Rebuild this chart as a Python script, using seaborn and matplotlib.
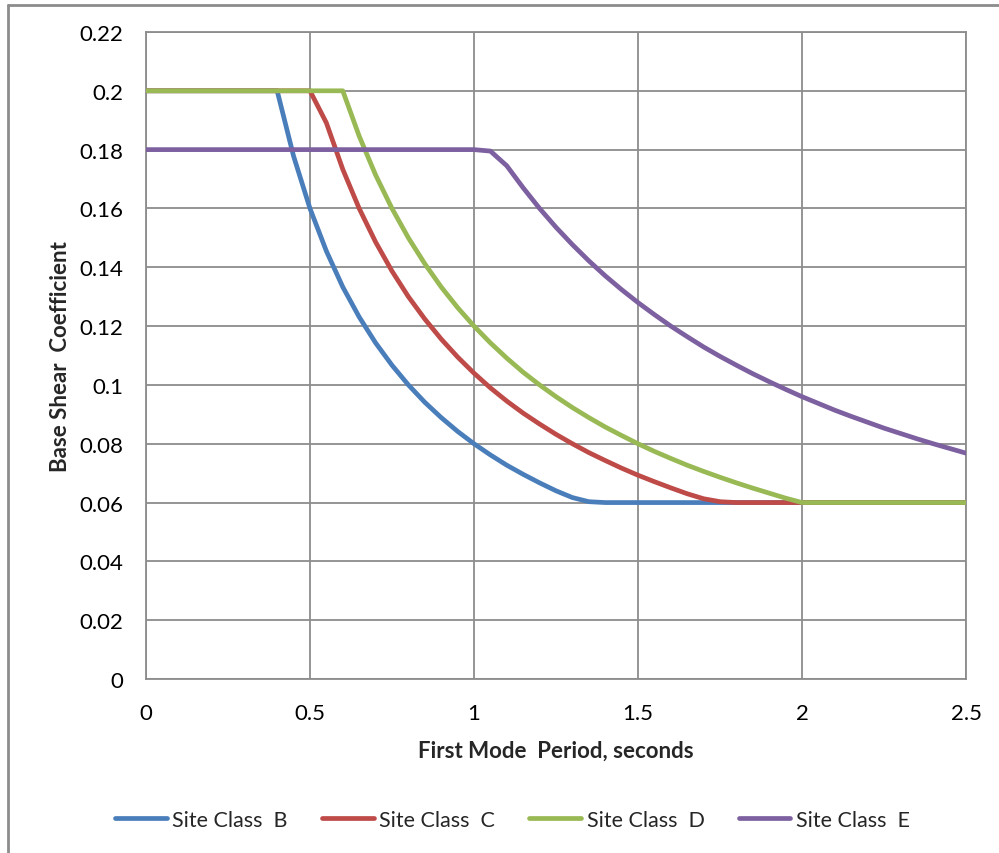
import numpy as np
import pandas as pd
import matplotlib
matplotlib.use('Agg')
import matplotlib.pyplot as plt
import seaborn as sns
from matplotlib.lines import Line2D

# period values (s)
period = [0.0, 0.05, 0.1, 0.15, 0.2, 0.25, 0.3, 0.35, 0.4, 0.45,
          0.5, 0.55, 0.6, 0.65, 0.7, 0.75, 0.8, 0.85, 0.9, 0.95,
          1.0, 1.05, 1.1, 1.15, 1.2, 1.25, 1.3, 1.35, 1.4, 1.45,
          1.5, 1.55, 1.6, 1.65, 1.7, 1.75, 1.8, 1.85, 1.9, 1.95,
          2.0, 2.05, 2.1, 2.15, 2.2, 2.25, 2.3, 2.35, 2.4, 2.45, 2.5]

site_b = [0.2, 0.2, 0.2, 0.2, 0.2, 0.2, 0.2, 0.2, 0.2, 0.1778,
          0.16, 0.1455, 0.1333, 0.1231, 0.1143, 0.1067, 0.1, 0.0941, 0.0889, 0.0842,
          0.08, 0.0762, 0.0727, 0.0696, 0.0667, 0.064, 0.0617, 0.0603, 0.06, 0.06,
          0.06, 0.06, 0.06, 0.06, 0.06, 0.06, 0.06, 0.06, 0.06, 0.06,
          0.06, 0.06, 0.06, 0.06, 0.06, 0.06, 0.06, 0.06, 0.06, 0.06, 0.06]
site_c = [0.2, 0.2, 0.2, 0.2, 0.2, 0.2, 0.2, 0.2, 0.2, 0.2,
          0.2, 0.1891, 0.1733, 0.16, 0.1486, 0.1387, 0.13, 0.1224, 0.1156, 0.1095,
          0.104, 0.099, 0.0945, 0.0904, 0.0867, 0.0832, 0.08, 0.077, 0.0743, 0.0717,
          0.0693, 0.0671, 0.065, 0.063, 0.0613, 0.0603, 0.06, 0.06, 0.06, 0.06,
          0.06, 0.06, 0.06, 0.06, 0.06, 0.06, 0.06, 0.06, 0.06, 0.06, 0.06]
site_d = [0.2, 0.2, 0.2, 0.2, 0.2, 0.2, 0.2, 0.2, 0.2, 0.2,
          0.2, 0.2, 0.2, 0.1846, 0.1714, 0.16, 0.15, 0.1412, 0.1333, 0.1263,
          0.12, 0.1143, 0.1091, 0.1043, 0.1, 0.096, 0.0923, 0.0889, 0.0857, 0.0828,
          0.08, 0.0774, 0.075, 0.0727, 0.0706, 0.0686, 0.0667, 0.0649, 0.0632, 0.0615,
          0.06, 0.06, 0.06, 0.06, 0.06, 0.06, 0.06, 0.06, 0.06, 0.06, 0.06]
site_e = [0.18, 0.18, 0.18, 0.18, 0.18, 0.18, 0.18, 0.18, 0.18, 0.18,
          0.18, 0.18, 0.18, 0.18, 0.18, 0.18, 0.18, 0.18, 0.18, 0.18,
          0.18, 0.1795, 0.1745, 0.167, 0.16, 0.1536, 0.1477, 0.1422, 0.1371, 0.1324,
          0.128, 0.1239, 0.12, 0.1164, 0.1129, 0.1097, 0.1067, 0.1038, 0.1011, 0.0985,
          0.096, 0.0937, 0.0914, 0.0893, 0.0873, 0.0853, 0.0835, 0.0817, 0.08, 0.0784,
          0.0768]

series_names = ['Site Class  B', 'Site Class  C', 'Site Class  D', 'Site Class  E']
colors = ['#4A7EBB', '#BE4B48', '#98B954', '#7D60A0']

x_ticks = [0, 0.5, 1, 1.5, 2, 2.5]
x_tick_labels = ['0', '0.5', '1', '1.5', '2', '2.5']
y_ticks = [0, 0.02, 0.04, 0.06, 0.08, 0.1, 0.12, 0.14, 0.16, 0.18, 0.2, 0.22]
y_tick_labels = ['0', '0.02', '0.04', '0.06', '0.08', '0.1', '0.12', '0.14',
                 '0.16', '0.18', '0.2', '0.22']

df = pd.concat([
    pd.DataFrame({'period': period, 'cs': vals, 'site': name})
    for name, vals in zip(series_names, [site_b, site_c, site_d, site_e])
])

sns.set_theme(style='white')
plt.rcParams['font.family'] = ['Lato', 'DejaVu Sans']

fig = plt.figure(figsize=(9.99, 8.54), dpi=100)
ax = fig.add_axes([0.1461, 0.2037, 0.967 - 0.1461, 0.9614 - 0.2037])

grid_c = '#8C8C8C'
sns.lineplot(data=df, x='period', y='cs', hue='site', palette=colors,
             linewidth=3.4, ax=ax, legend=False, zorder=3,
             solid_capstyle='round', solid_joinstyle='round')

ax.set_xlim(0, 2.5)
ax.set_ylim(0, 0.22)
ax.set_xticks(x_ticks)
ax.set_xticklabels(x_tick_labels)
ax.set_yticks(y_ticks)
ax.set_yticklabels(y_tick_labels)
ax.tick_params(axis='both', labelsize=16, colors='black', length=0)
ax.tick_params(axis='y', pad=16)
ax.tick_params(axis='x', pad=17)
ax.grid(True, color=grid_c, linewidth=1.3)
for s in ax.spines.values():
    s.set_color(grid_c)
    s.set_linewidth(1.3)

ax.set_xlabel('First Mode  Period, seconds', fontsize=16, fontweight='bold',
              labelpad=12)
ax.set_ylabel('Base Shear  Coefficient', fontsize=16, fontweight='bold',
              labelpad=6)

handles = [Line2D([0], [0], color=c, lw=3.4, solid_capstyle='round')
           for c in colors]
fig.legend(handles, series_names, loc='center', ncol=4,
           bbox_to_anchor=(0.513, 0.039), frameon=False, fontsize=15.5,
           handlelength=2.4, handletextpad=0.25, columnspacing=1.6)

# outer chart border (Excel style)
fig.add_artist(Line2D([0.008, 1.0], [0.993, 0.993], color='#8C8C8C', lw=2))
fig.add_artist(Line2D([0.008, 0.008], [0.0, 0.993], color='#8C8C8C', lw=2))

plt.savefig('out.png', dpi=100)
plt.close()
